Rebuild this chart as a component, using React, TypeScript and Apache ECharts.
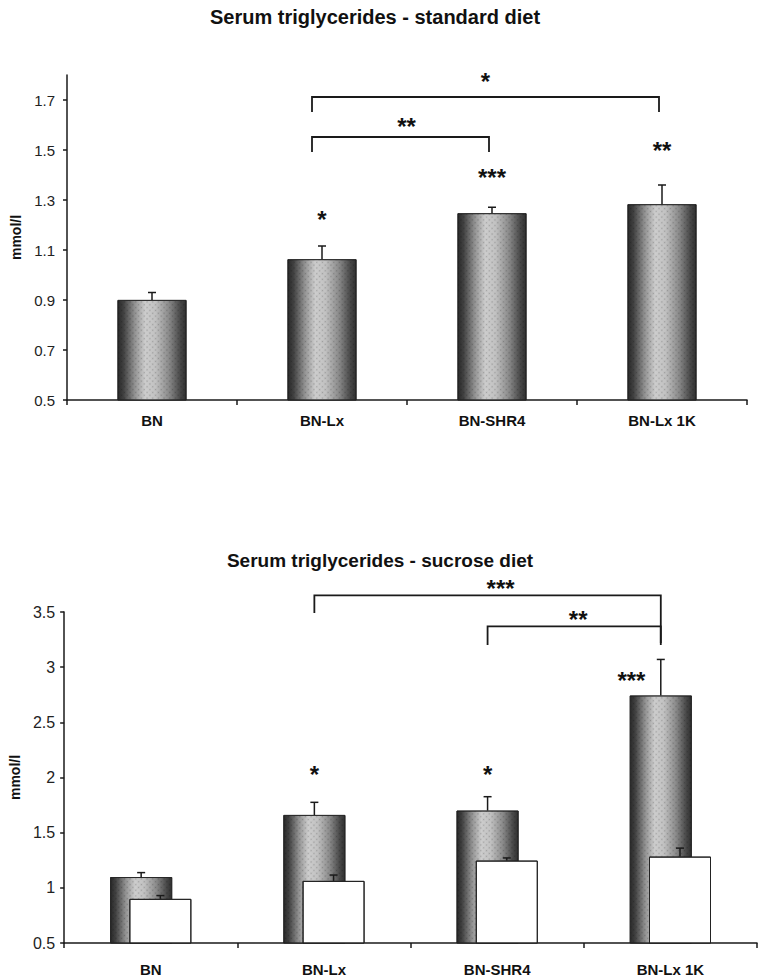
import React, { useEffect, useRef } from 'react';
import * as echarts from 'echarts';

// ---------------- data ----------------
const categories = ['BN', 'BN-Lx', 'BN-SHR4', 'BN-Lx 1K'];

const standardMeans = [0.9, 1.063, 1.247, 1.283];
const standardErr = [0.03, 0.053, 0.024, 0.077];

const sucroseMeans = [1.097, 1.66, 1.7, 2.743];
const sucroseErr = [0.041, 0.115, 0.126, 0.327];

const topTicks = [0.5, 0.7, 0.9, 1.1, 1.3, 1.5, 1.7];
const bottomTicks = [0.5, 1, 1.5, 2, 2.5, 3, 3.5];

const topStars = ['', '*', '***', '**'];
const topStarLevels = [0, 1.248, 1.416, 1.524];
const bottomStars = ['', '*', '*', '***'];
const bottomStarLevels = [0, 2.086, 2.086, 2.93];

// bracket: from index, to index, bar level, left drop level, right drop level, label, label level
const topBrackets: [number, number, number, number, number, string, number][] = [
  [1, 3, 1.712, 1.652, 1.652, '*', 1.8],
  [1, 2, 1.552, 1.492, 1.492, '**', 1.62],
];
const bottomBrackets: [number, number, number, number, number, string, number][] = [
  [1, 3, 3.65, 3.49, 3.22, '***', 3.77],
  [2, 3, 3.37, 3.2, 3.2, '**', 3.49],
];

// ---------------- styles ----------------
const FONT = 'Arial, "Liberation Sans", Helvetica, sans-serif';
const INK = '#1a1a1a';

const barGradient = () =>
  new echarts.graphic.LinearGradient(0, 0, 1, 0, [
    { offset: 0, color: '#2a2a2a' },
    { offset: 0.08, color: '#404040' },
    { offset: 0.25, color: '#949494' },
    { offset: 0.4, color: '#cdcdcd' },
    { offset: 0.55, color: '#c2c2c2' },
    { offset: 0.75, color: '#8a8a8a' },
    { offset: 0.92, color: '#474747' },
    { offset: 1, color: '#303030' },
  ]);

const halftone = {
  symbol: 'circle',
  symbolSize: 0.5,
  color: 'rgba(0,0,0,0.2)',
  dashArrayX: [[3, 1]],
  dashArrayY: [3, 1],
  rotation: Math.PI / 4,
};

const noDecal = { symbol: 'none', color: 'rgba(0,0,0,0)' };

function errorSeries(gridIdx: number, means: number[], errs: number[], dx: number) {
  return {
    type: 'custom',
    xAxisIndex: gridIdx,
    yAxisIndex: gridIdx,
    z: 5,
    silent: true,
    itemStyle: { decal: noDecal },
    data: means.map((m, i) => [i, m, m + errs[i]]),
    encode: { x: 0, y: [1, 2] },
    renderItem: (params: any, api: any) => {
      const base = api.coord([api.value(0), api.value(1)]);
      const top = api.coord([api.value(0), api.value(2)]);
      const x = base[0] + dx;
      return {
        type: 'group',
        children: [
          { type: 'line', shape: { x1: x, y1: base[1], x2: x, y2: top[1] }, style: { stroke: INK, lineWidth: 1.5 } },
          { type: 'line', shape: { x1: x - 4, y1: top[1], x2: x + 4, y2: top[1] }, style: { stroke: INK, lineWidth: 1.5 } },
        ],
      };
    },
  };
}

function starSeries(gridIdx: number, stars: string[], levels: number[], dxs: number[]) {
  return {
    type: 'custom',
    xAxisIndex: gridIdx,
    yAxisIndex: gridIdx,
    z: 6,
    silent: true,
    itemStyle: { decal: noDecal },
    data: levels.map((l, i) => [i, l]),
    encode: { x: 0, y: 1 },
    renderItem: (params: any, api: any) => {
      const i = params.dataIndex;
      if (!stars[i]) return null;
      const p = api.coord([api.value(0), api.value(1)]);
      return {
        type: 'text',
        x: p[0] + dxs[i],
        y: p[1] + 6,
        style: {
          text: stars[i],
          fontSize: 24,
          fontWeight: 'bold',
          fontFamily: FONT,
          fill: '#111',
          align: 'center',
          verticalAlign: 'middle',
        },
      };
    },
  };
}

function bracketSeries(gridIdx: number, brackets: [number, number, number, number, number, string, number][], dl: number, dr: number, labelDx: number[]) {
  return {
    type: 'custom',
    xAxisIndex: gridIdx,
    yAxisIndex: gridIdx,
    z: 6,
    silent: true,
    clip: false,
    itemStyle: { decal: noDecal },
    data: brackets.map((b) => [b[0], b[1], b[2], b[3], b[4], b[6]]),
    encode: { x: [0, 1], y: [2, 3, 4, 5] },
    renderItem: (params: any, api: any) => {
      const b = brackets[params.dataIndex];
      const a = api.coord([api.value(0), api.value(2)]);
      const c = api.coord([api.value(1), api.value(2)]);
      const ld = api.coord([api.value(0), api.value(3)]);
      const rd = api.coord([api.value(1), api.value(4)]);
      const lab = api.coord([api.value(0), api.value(5)]);
      const x1 = a[0] + dl;
      const x2 = c[0] + dr;
      return {
        type: 'group',
        children: [
          {
            type: 'polyline',
            shape: { points: [[x1, ld[1]], [x1, a[1]], [x2, a[1]], [x2, rd[1]]] },
            style: { stroke: INK, lineWidth: 1.8, fill: 'none' },
          },
          {
            type: 'text',
            x: (x1 + x2) / 2 + labelDx[params.dataIndex],
            y: lab[1] + 6,
            style: {
              text: b[5],
              fontSize: 24,
              fontWeight: 'bold',
              fontFamily: FONT,
              fill: '#111',
              align: 'center',
              verticalAlign: 'middle',
            },
          },
        ],
      };
    },
  };
}

const axisLineStyle = { color: INK, width: 1.5 };

export default function App() {
  const ref = useRef<HTMLDivElement>(null);

  useEffect(() => {
    if (!ref.current) return;
    const chart = echarts.init(ref.current, undefined, { renderer: 'svg' });

    const bottomDx = 9.6;

    const option: any = {
      animation: false,
      backgroundColor: '#ffffff',
      aria: { enabled: true, decal: { show: true } },
      graphic: [
        {
          type: 'text',
          x: 375,
          y: 17,
          style: {
            text: 'Serum triglycerides - standard diet',
            fontSize: 20,
            fontWeight: 'bold',
            fontFamily: FONT,
            fill: '#111',
            align: 'center',
            verticalAlign: 'middle',
          },
        },
        {
          type: 'text',
          x: 380,
          y: 560,
          style: {
            text: 'Serum triglycerides - sucrose diet',
            fontSize: 19,
            fontWeight: 'bold',
            fontFamily: FONT,
            fill: '#111',
            align: 'center',
            verticalAlign: 'middle',
          },
        },
      ],
      grid: [
        { left: 67, right: 19, top: 75, height: 325 },
        { left: 62, right: 9, top: 612, height: 331 },
      ],
      xAxis: [0, 1].map((g) => ({
        type: 'category',
        gridIndex: g,
        data: categories,
        axisLine: { show: true, lineStyle: axisLineStyle },
        axisTick: { show: true, length: 5, lineStyle: axisLineStyle },
        axisLabel: {
          fontSize: 15,
          fontWeight: 'bold',
          fontFamily: FONT,
          color: '#111',
          margin: g === 0 ? 13 : 19,
        },
        splitLine: { show: false },
      })),
      yAxis: [
        {
          type: 'value',
          gridIndex: 0,
          min: 0.5,
          max: 1.8,
          axisLine: { show: true, lineStyle: axisLineStyle },
          axisTick: { show: true, length: 4, customValues: topTicks, lineStyle: axisLineStyle },
          axisLabel: {
            customValues: topTicks,
            fontSize: 15,
            fontFamily: FONT,
            color: '#222',
            margin: 12,
            formatter: (v: number) => v.toFixed(1),
          },
          splitLine: { show: false },
          name: 'mmol/l',
          nameLocation: 'middle',
          nameGap: 39,
          nameTextStyle: { fontSize: 14, fontWeight: 'bold', fontFamily: FONT, color: '#111' },
        },
        {
          type: 'value',
          gridIndex: 1,
          min: 0.5,
          max: 3.5,
          axisLine: { show: true, lineStyle: axisLineStyle },
          axisTick: { show: true, length: 4, customValues: bottomTicks, lineStyle: axisLineStyle },
          axisLabel: {
            customValues: bottomTicks,
            fontSize: 16,
            fontFamily: FONT,
            color: '#222',
            margin: 9,
          },
          splitLine: { show: false },
          name: 'mmol/l',
          nameLocation: 'middle',
          nameGap: 42,
          nameTextStyle: { fontSize: 14, fontWeight: 'bold', fontFamily: FONT, color: '#111' },
        },
      ],
      series: [
        {
          name: 'Standard diet',
          type: 'bar',
          xAxisIndex: 0,
          yAxisIndex: 0,
          data: standardMeans,
          barWidth: 69,
          itemStyle: { color: barGradient(), borderColor: '#222', borderWidth: 0.8, decal: halftone },
        },
        errorSeries(0, standardMeans, standardErr, 0),
        starSeries(0, topStars, topStarLevels, [0, 0, 0, 0]),
        bracketSeries(0, topBrackets, -10, -3, [0, 6]),
        {
          name: 'Sucrose diet',
          type: 'bar',
          xAxisIndex: 1,
          yAxisIndex: 1,
          data: sucroseMeans,
          barWidth: 62,
          barGap: '-69%',
          itemStyle: { color: barGradient(), borderColor: '#222', borderWidth: 0.8, decal: halftone },
        },
        errorSeries(1, sucroseMeans, sucroseErr, -bottomDx),
        errorSeries(1, standardMeans, standardErr, bottomDx),
        {
          name: 'Standard diet (control)',
          type: 'bar',
          xAxisIndex: 1,
          yAxisIndex: 1,
          data: standardMeans,
          barWidth: 62,
          barGap: '-69%',
          itemStyle: { color: '#ffffff', borderColor: '#222', borderWidth: 1, decal: noDecal },
        },
        starSeries(1, bottomStars, bottomStarLevels, [0, -bottomDx, -bottomDx, -39]),
        bracketSeries(1, bottomBrackets, -bottomDx, -bottomDx, [13, 4]),
      ],
    };

    chart.setOption(option);
    return () => chart.dispose();
  }, []);

  return (
    <div
      ref={ref}
      style={{ position: 'absolute', left: 0, top: 0, width: 766, height: 980, background: '#fff' }}
    />
  );
}
